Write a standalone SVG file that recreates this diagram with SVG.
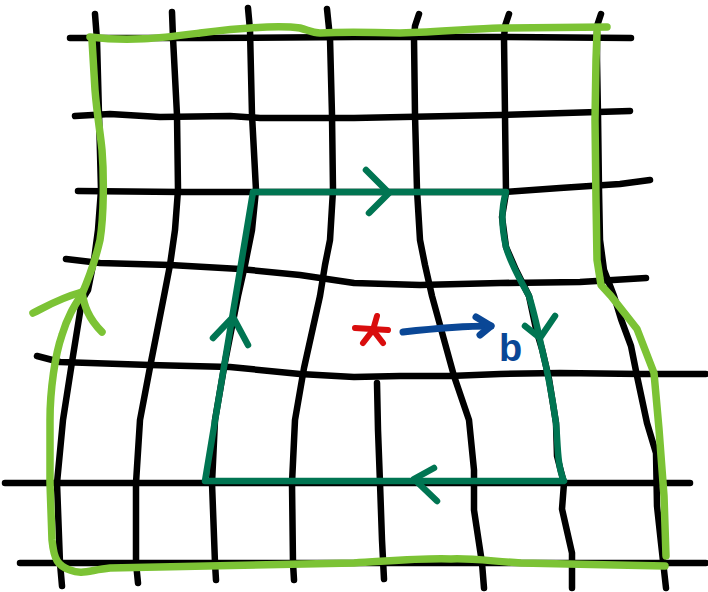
<svg xmlns="http://www.w3.org/2000/svg" width="708" height="592" viewBox="0 0 708 592">
<style>
.g{fill:none;stroke:#000;stroke-width:6.5;stroke-linecap:round;stroke-linejoin:round}
.lg{fill:none;stroke:#7cc335;stroke-width:7.5;stroke-linecap:round;stroke-linejoin:round}
.dg{fill:none;stroke:#007552;stroke-width:6.5;stroke-linecap:round;stroke-linejoin:round}
.rd{fill:none;stroke:#d90d0d;stroke-width:6;stroke-linecap:round;stroke-linejoin:round}
.bl{fill:none;stroke:#0a4796;stroke-width:7;stroke-linecap:round;stroke-linejoin:round}
</style>
<rect width="708" height="592" fill="#fff"/>
<g id="grid">
<polyline class="g" points="70,38 200,38 354,37 500,37 631,38"/>
<polyline class="g" points="75,116 110,114 160,117 230,116 260,118 354,118 500,115 630,111"/>
<polyline class="g" points="78,191 180,192 253,192 504,192 560,188 620,184 650,180"/>
<polyline class="g" points="66,259 100,263 170,265 240,269 300,275 354,283 420,285 500,283 580,282 646,278"/>
<polyline class="g" points="37,356 60,362 150,365 230,367 300,374 354,377 400,376 450,376 500,374 560,373 640,374 706,374"/>
<polyline class="g" points="5,483 690,483"/>
<polyline class="g" points="20,563 706,563"/>
<polyline class="g" points="95,14 97,40 99,115 101,190 98,230 94,260 88,290 82,300 72,362 63,420 57,483 60,563 62,586"/>
<polyline class="g" points="172,12 173,38 177,115 178,190 175,230 170,265 164,296 151,362 140,420 136,483 136,563 138,583"/>
<polyline class="g" points="248,8 250,30 252,115 256,190 252,230 245,265 238,296 225,362 215,420 212,483 215,563 216,580"/>
<polyline class="g" points="327,9 330,38 332,115 333,190 330,240 325,265 320,296 304,368 295,420 292,483 293,563 294,580"/>
<polyline class="g" points="419,14 415,26 414,38 415,115 417,190 420,240 425,265 432,296 454,376 469,420 474,470 474,510 482,563 484,588"/>
<polyline class="g" points="509,14 505,26 504,38 505,115 506,193 502,217 506,247 516,270 529,296 536,329 542,349 549,379 556,423 557,456 564,483 562,509 572,553 572,588"/>
<polyline class="g" points="601,14 597,26 597,60 598,115 599,190 600,240 604,270 614,296 621,319 631,346 637,376 647,423 656,453 657,506 661,543 666,588"/>
<polyline class="g" points="377,383 378,430 380,483 382,540 384,579"/>
</g>
<g id="outer-loop">
<path class="lg" d="M90,37 C130,42 160,38 200,33 C240,28 280,25 300,28 C308,30 312,33 320,33 C340,32 360,32 400,33 C440,32 470,29 500,28 L607,27"/>
<polyline class="lg" points="597,33 596,60 595,120 596,200 597,260 601,285 611,296 637,329 654,373 659,429 664,496 666,556"/>
<path class="lg" d="M665,566 C620,565 560,564 521,563 C490,561 470,558 451,559 C420,558 390,561 354,563 C300,564 200,566 110,568 C90,570 82,575 70,570 C58,566 54,560 52,540 L50,483 L50,420 C50,390 55,355 62,335 C68,315 75,305 82,294 C88,280 95,262 100,240 C104,215 104,175 102,150 C100,130 97,115 95,90 L92,40"/>
<path class="lg" d="M33,313 C45,307 60,298 82,292"/>
<path class="lg" d="M82,292 C84,305 88,318 102,332"/>
</g>
<g id="burgers-circuit">
<path class="dg" d="M253,192 L506,192 C502,205 501,225 506,247 C510,262 520,280 529,296 C535,315 540,340 542,349 C546,365 552,395 556,423 C558,445 557,465 564,481 L205,481 Z"/>
<polyline class="dg" points="366,170 389,193 369,213"/>
<polyline class="dg" points="213,338 233,317 248,345"/>
<polyline class="dg" points="525,326 540,338 555,316"/>
<polyline class="dg" points="434,468 414,479 437,501"/>
</g>
<g id="dislocation">
<line class="rd" x1="377" y1="316" x2="373" y2="330"/>
<line class="rd" x1="355" y1="328" x2="388" y2="330"/>
<line class="rd" x1="363" y1="343" x2="373" y2="330"/>
<line class="rd" x1="383" y1="343" x2="373" y2="330"/>
</g>
<g id="burgers-vector">
<path class="bl" d="M403,332 C430,329 460,326 491,326"/>
<polyline class="bl" points="476,317 491,326 480,335"/>
<text x="499" y="361" font-family="Liberation Sans, Arial, sans-serif" font-weight="bold" font-size="38" fill="#0a4796">b</text>
</g>
</svg>
